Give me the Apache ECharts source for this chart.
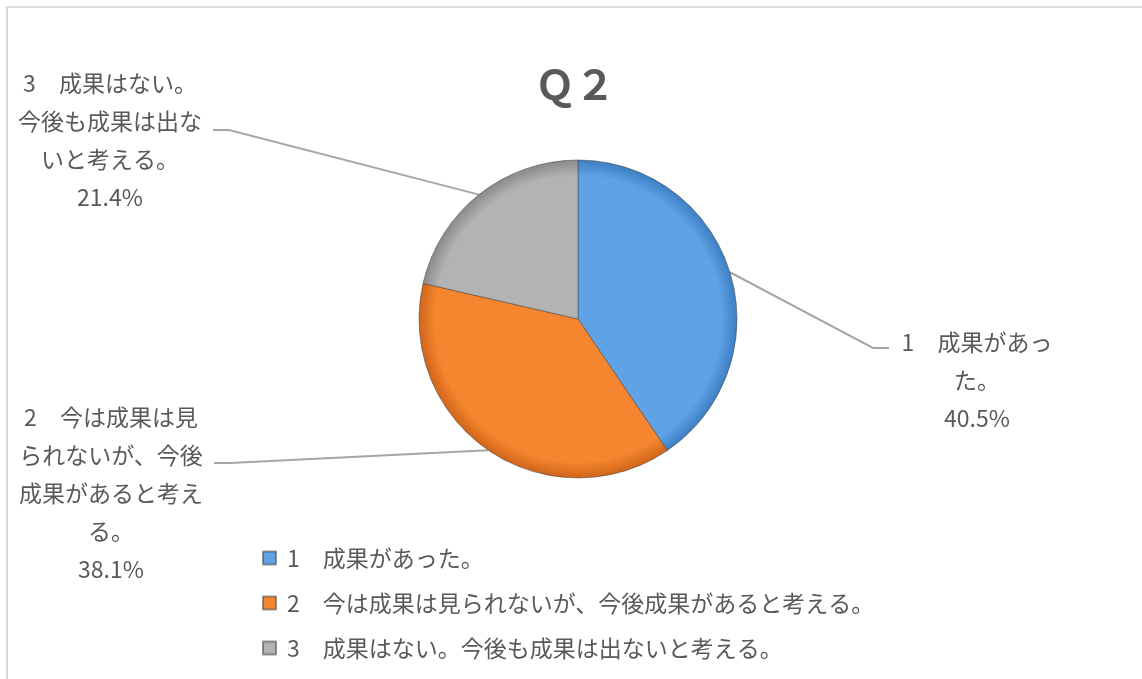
<!DOCTYPE html>
<html>
<head>
<meta charset="utf-8">
<script src="https://cdn.jsdelivr.net/npm/echarts@6/dist/echarts.min.js"></script>
<style>
  html, body { margin: 0; padding: 0; background: #fff; }
  #chart { width: 1142px; height: 679px; }
</style>
</head>
<body>
<div id="chart"></div>
<script>
// Q2 answers
var categories = ['1　成果があった。', '2　今は成果は見られないが、今後成果があると考える。', '3　成果はない。今後も成果は出ないと考える。']
var percents = [40.5, 38.1, 21.4]
var colors = ['#5fa2e6', '#f5852e', '#b3b3b3']
var rims = ['#3c7fc4', '#d0651a', '#8a8a8a']

// where each data label sits (centre), and where its leader line meets it
var labelPos = [
  { x: 977, y: 380, lineY: 348, w: 160, side: 'right' },
  { x: 111, y: 493, lineY: 463, w: 190, side: 'left' },
  { x: 110, y: 140, lineY: 130, w: 190, side: 'left' }
]

var center = [578, 319]
var radius = 159

var chart = echarts.init(document.getElementById('chart'))

var data = categories.map(function (name, i) {
  return {
    name: name,
    value: percents[i],
    itemStyle: {
      color: {
        type: 'radial', x: center[0], y: center[1], r: radius, global: true,
        colorStops: [
          { offset: 0, color: colors[i] },
          { offset: 0.9, color: colors[i] },
          { offset: 1, color: rims[i] }
        ]
      }
    },
    label: { width: labelPos[i].w }
  }
})

chart.setOption({
  animation: false,
  color: colors,
  textStyle: { fontFamily: '"Noto Sans CJK JP", "Noto Sans", sans-serif' },
  graphic: [{
    type: 'rect',
    shape: { x: 7, y: 7, width: 1400, height: 1000 },
    style: { fill: 'none', stroke: '#d9d9d9', lineWidth: 2 },
    silent: true
  }],
  title: {
    text: 'Ｑ２',
    left: 570,
    top: 60,
    textAlign: 'center',
    textStyle: { fontSize: 40, fontWeight: 'bold', color: '#595959' }
  },
  legend: {
    orient: 'vertical',
    left: 257,
    top: 541,
    itemWidth: 13,
    itemHeight: 13,
    itemGap: 21,
    icon: 'rect',
    data: categories.map(function (name, i) {
      return { name: name, itemStyle: { color: colors[i] } }
    }),
    textStyle: { fontSize: 23, lineHeight: 24, color: '#595959', padding: [0, 0, 0, 6] }
  },
  series: [{
    type: 'pie',
    center: center,
    radius: radius,
    startAngle: 90,
    clockwise: true,
    data: data,
    itemStyle: { borderColor: 'rgba(70,70,70,0.55)', borderWidth: 1 },
    label: {
      show: true,
      position: 'outside',
      overflow: 'break',
      align: 'center',
      fontSize: 23,
      lineHeight: 38,
      color: '#595959',
      formatter: function (p) {
        return p.name + '\n' + p.value.toFixed(1) + '%'
      }
    },
    labelLine: {
      show: true,
      lineStyle: { color: '#a6a6a6', width: 2 }
    },
    labelLayout: function (params) {
      var pos = labelPos[params.dataIndex]
      var start = params.labelLinePoints[0]
      var edge = pos.side === 'right' ? pos.x - pos.w / 2 : pos.x + pos.w / 2
      var dir = pos.side === 'right' ? -1 : 1
      return {
        x: pos.x,
        y: pos.y,
        align: 'center',
        verticalAlign: 'middle',
        labelLinePoints: [start, [edge + dir * 24, pos.lineY], [edge + dir * 8, pos.lineY]]
      }
    }
  }]
})
</script>
</body>
</html>
